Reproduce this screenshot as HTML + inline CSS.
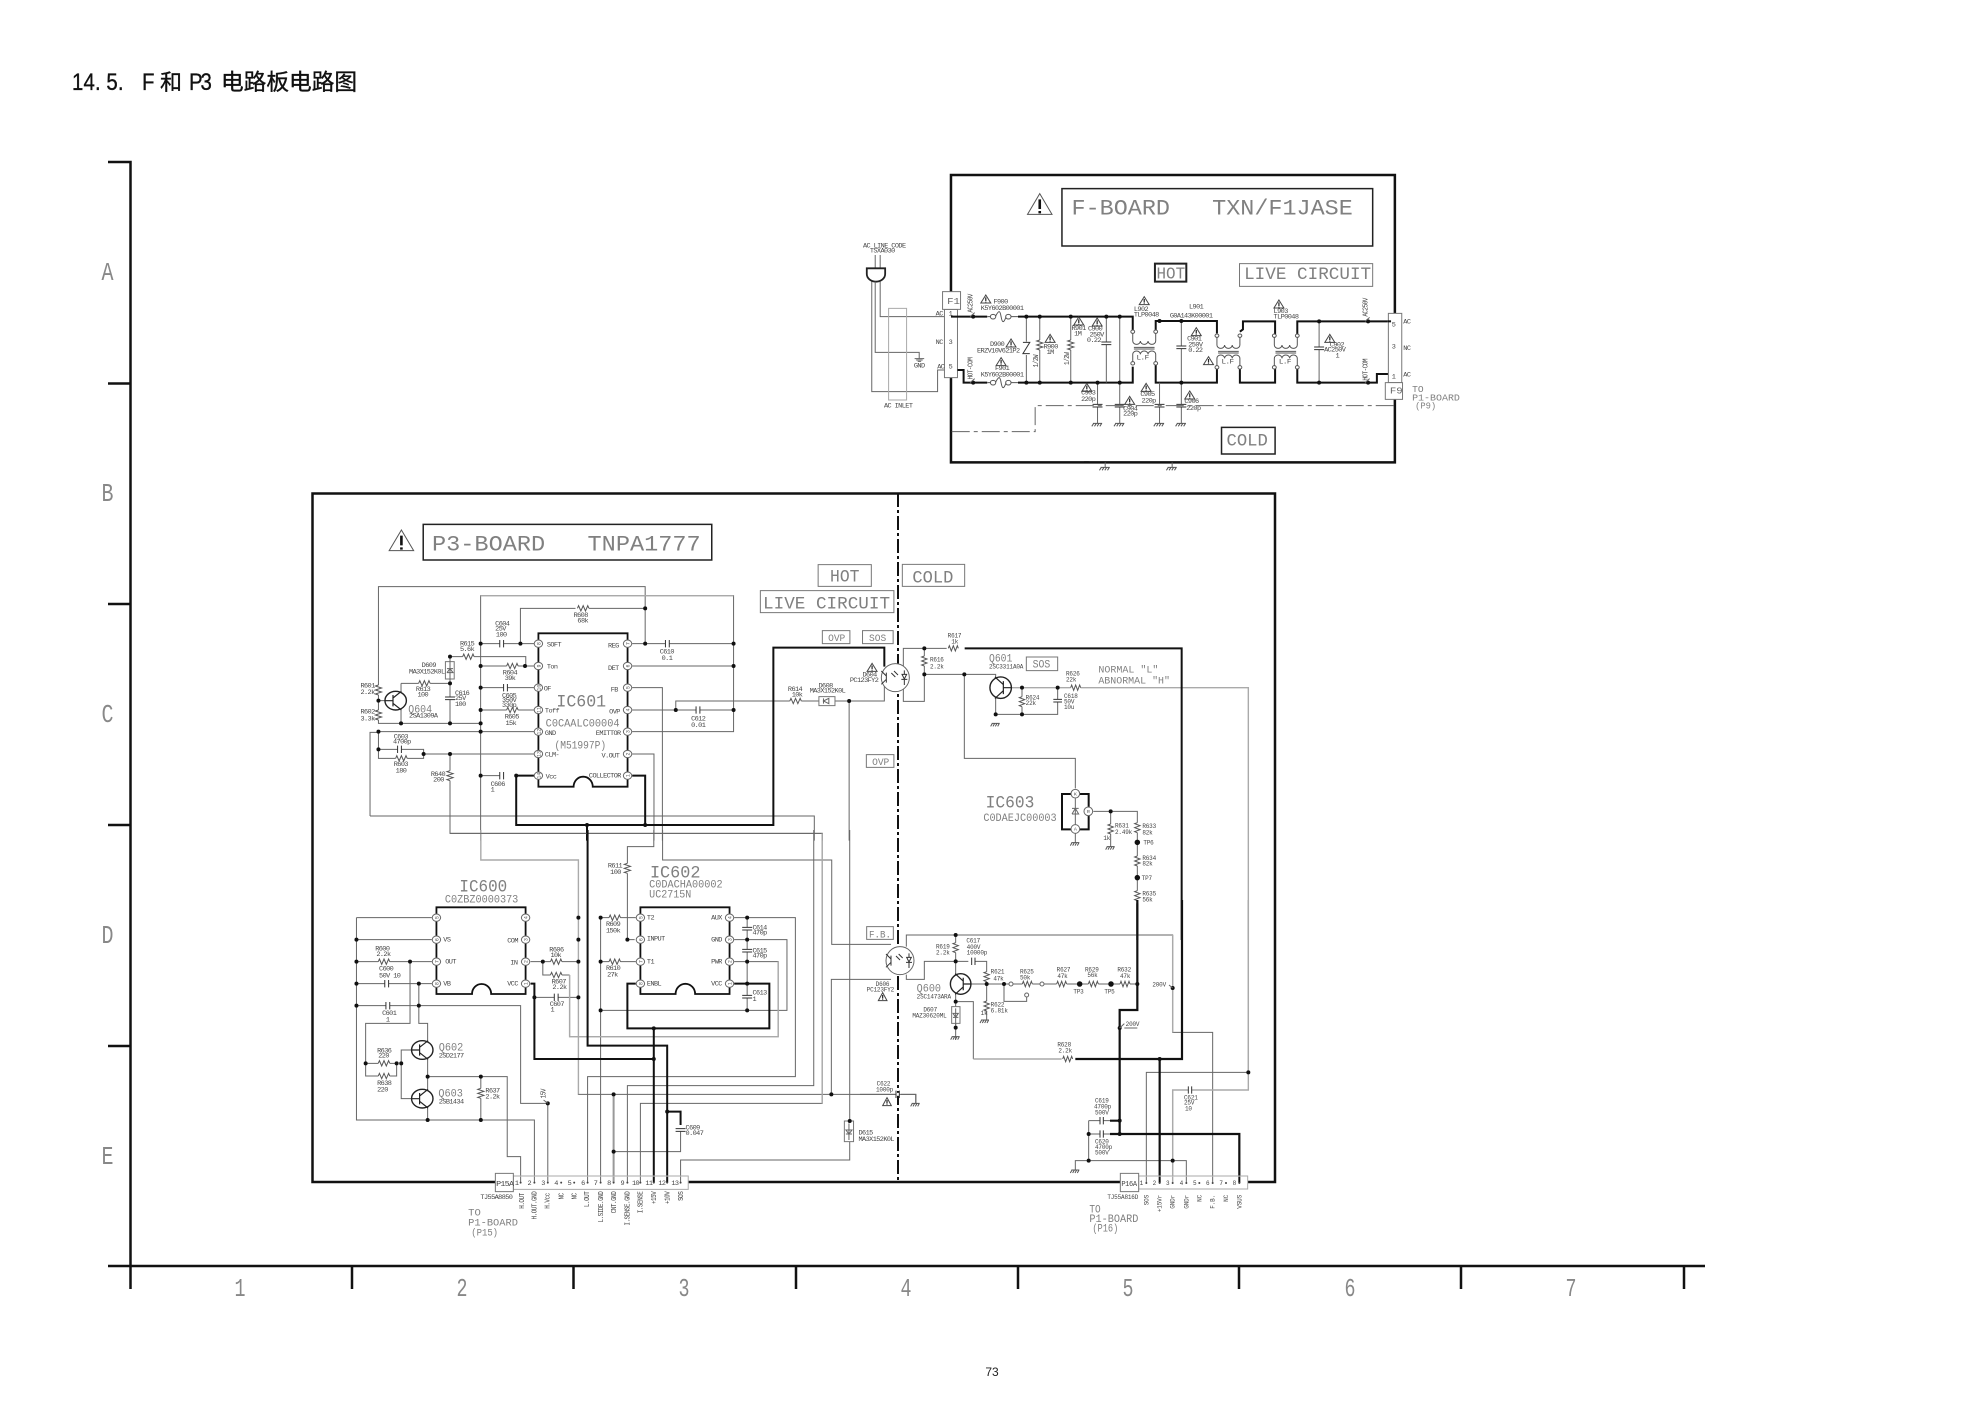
<!DOCTYPE html>
<html><head><meta charset="utf-8"><title>14.5. F 和 P3 电路板电路图</title>
<style>
html,body{margin:0;padding:0;background:#fff}
svg{display:block}
path,line,rect,circle,ellipse,polygon{vector-effect:non-scaling-stroke}
.f{fill:none;stroke:#111;stroke-width:2.5}
.k{fill:none;stroke:#111;stroke-width:2}
.t{fill:none;stroke:#666;stroke-width:1}
.l{fill:none;stroke:#aaa;stroke-width:1.4}
.d{fill:none;stroke:#111;stroke-width:4;stroke-linecap:round}
.dp{fill:none;stroke:#444;stroke-width:2;stroke-linecap:round}
.bx{fill:#fff;stroke:#777;stroke-width:1}
.bk{fill:#fff;stroke:#222;stroke-width:1.5}
.pin{fill:#fff;stroke:#666;stroke-width:1}
text{font-family:"Liberation Mono",monospace;white-space:pre}
.s{font-size:18px;letter-spacing:-1.5px;fill:#444}
.b{fill:#808080}
.n{font-size:15px;fill:#555;text-anchor:middle}
.z3 .s{letter-spacing:-.5px}
.ax{font-size:26px;fill:#888;text-anchor:middle}
.ti{fill:#111;stroke:#111;stroke-width:.35px}
</style></head><body>
<svg width="1985" height="1404" viewBox="0 0 1985 1404" xmlns="http://www.w3.org/2000/svg">
<defs>
<g id="zh"><path d="M0 0H30" fill="none" stroke="#fff" stroke-width="3"/><path d="M0 0l3-8 6 16 6-16 6 16 6-16 3 8" fill="none" stroke="#555" stroke-width="1"/></g>
<g id="zv"><path d="M0 0V30" fill="none" stroke="#fff" stroke-width="3"/><path d="M0 0l-8 3 16 6-16 6 16 6-16 6 8 3" fill="none" stroke="#555" stroke-width="1"/></g>
<g id="ch"><path d="M-5 0H5" fill="none" stroke="#fff" stroke-width="3"/><path d="M-5-11V11M5-11V11" fill="none" stroke="#333" stroke-width="1"/></g>
<g id="cv"><path d="M0-4V4" fill="none" stroke="#fff" stroke-width="3"/><path d="M-13-4H13M-13 4H13" fill="none" stroke="#333" stroke-width="1"/></g>
<g id="w"><path d="M0-13L13 11H-13Z" fill="#fff" stroke="#444" stroke-width="1"/><path d="M0-6V5M0 7V9" fill="none" stroke="#222" stroke-width="1.2"/></g>
<g id="W"><path d="M0-32L32 30H-32Z" fill="#fff" stroke="#555" stroke-width="1"/><path d="M0-15V14M0 20V27" fill="none" stroke="#111" stroke-width="2.6"/></g>
<path id="g" d="M-12 0H12M-10 0L-15 9M-3 0L-8 9M4 0L-1 9M11 0L6 9" fill="none" stroke="#555" stroke-width="1"/>
<g id="q"><circle r="28" fill="#fff" stroke="#222" stroke-width="1.4"/><path d="M-28 0H-7M-7-17V17M-7-8L15-28M-7 8L15 28" fill="none" stroke="#222" stroke-width="1.2"/></g>
<g id="o"><circle r="42" fill="#fff" stroke="#666" stroke-width="1"/><path d="M-27-15V15M-27-5L-42-20M-27 5L-42 20M20-10H34L27 4ZM18 5H36M27-22V-10M27 4V22M-12-14L0-2M-4-20L8-8" fill="none" stroke="#333" stroke-width="1"/></g>
<g id="fu"><path d="M0 0H80" fill="none" stroke="#fff" stroke-width="3"/><path d="M0 0H9M21 0C30-20 33-20 36 0S43 20 49 0M61 0H80" fill="none" stroke="#555" stroke-width="1"/><circle cx="15" r="7" fill="#fff" stroke="#555" stroke-width="1"/><circle cx="55" r="7" fill="#fff" stroke="#555" stroke-width="1"/></g>
<g id="lf"><path d="M0 5V28a10 10 0 0 0 20 0a10 10 0 0 0 20 0a10 10 0 0 0 20 0V5M0 90V68a10 10 0 0 1 20 0a10 10 0 0 1 20 0a10 10 0 0 1 20 0V90M3 47H57M3 52H57" fill="none" stroke="#555" stroke-width="1"/><circle r="5" fill="#fff" stroke="#555" stroke-width="1"/><circle cx="60" r="5" fill="#fff" stroke="#555" stroke-width="1"/><circle cy="95" r="5" fill="#fff" stroke="#555" stroke-width="1"/><circle cx="60" cy="95" r="5" fill="#fff" stroke="#555" stroke-width="1"/></g>
</defs>

<!-- title -->
<text class="ti" transform="translate(72 90) scale(.85 1)" x="0 13.500 27 40.500 54" style="font-family:'Liberation Sans',sans-serif;font-size:24px">14.5.</text>
<text class="ti" transform="translate(142 90) scale(.85 1)" style="font-family:'Liberation Sans',sans-serif;font-size:24px">F</text>
<text class="ti" x="160" y="90" style="font-family:'Noto Sans CJK SC',sans-serif;font-size:22px">和</text>
<text class="ti" transform="translate(189 90) scale(.85 1)" x="0 13.500" style="font-family:'Liberation Sans',sans-serif;font-size:24px">P3</text>
<text class="ti" x="221" y="90" style="font-family:'Noto Sans CJK SC',sans-serif;font-size:22.7px">电路板电路图</text>

<!-- axes -->
<path class="f" d="M108 162H130.500V1266M108 383.500H130.500M108 604H130.500M108 825H130.500M108 1046H130.500M108 1266H1705M130.500 1266V1289M352 1266V1289M573.500 1266V1289M796 1266V1289M1018 1266V1289M1239 1266V1289M1461 1266V1289M1684 1266V1289"/>
<g class="ax">
<text class="ax" x="107.500" y="280" textLength="12" lengthAdjust="spacingAndGlyphs">A</text>
<text class="ax" x="107.500" y="501" textLength="12" lengthAdjust="spacingAndGlyphs">B</text>
<text class="ax" x="107.500" y="722" textLength="12" lengthAdjust="spacingAndGlyphs">C</text>
<text class="ax" x="107.500" y="943" textLength="12" lengthAdjust="spacingAndGlyphs">D</text>
<text class="ax" x="107.500" y="1164" textLength="12" lengthAdjust="spacingAndGlyphs">E</text>
<text class="ax" x="240" y="1296" textLength="11" lengthAdjust="spacingAndGlyphs">1</text>
<text class="ax" x="462" y="1296" textLength="11" lengthAdjust="spacingAndGlyphs">2</text>
<text class="ax" x="684" y="1296" textLength="11" lengthAdjust="spacingAndGlyphs">3</text>
<text class="ax" x="906" y="1296" textLength="11" lengthAdjust="spacingAndGlyphs">4</text>
<text class="ax" x="1128" y="1296" textLength="11" lengthAdjust="spacingAndGlyphs">5</text>
<text class="ax" x="1350" y="1296" textLength="11" lengthAdjust="spacingAndGlyphs">6</text>
<text class="ax" x="1571" y="1296" textLength="11" lengthAdjust="spacingAndGlyphs">7</text>
</g>
<text x="992" y="1376" style="font-family:'Liberation Sans',sans-serif;font-size:12px;fill:#222" text-anchor="middle">73</text>

<!-- P3 board frame -->
<rect class="f" x="312.500" y="493.500" width="962.500" height="688.500"/>
<path d="M898 493V1182" fill="none" stroke="#111" stroke-width="2" stroke-dasharray="14 3 3 3"/>

<!-- ========== F BOARD ========== -->
<g transform="translate(840 160) scale(.38267 .33333)">
<rect class="f" x="290" y="45" width="1160" height="862"/>
<use href="#W" x="522" y="133"/>
<rect class="bk" x="580" y="86" width="812" height="172"/>
<text class="b" x="605" y="163" style="font-size:66px" textLength="735" lengthAdjust="spacingAndGlyphs">F-BOARD   TXN/F1JASE</text>
<rect class="bk" x="823" y="311" width="82" height="54" style="stroke-width:2"/>
<text class="b" x="827" y="355" style="font-size:50px" textLength="75" lengthAdjust="spacingAndGlyphs">HOT</text>
<rect class="bx" x="1044" y="311" width="348" height="68"/>
<text class="b" x="1056" y="357" style="font-size:52px" textLength="332" lengthAdjust="spacingAndGlyphs">LIVE CIRCUIT</text>
<rect class="bk" x="997" y="802" width="140" height="80"/>
<text class="b" x="1010" y="856" style="font-size:54px" textLength="108" lengthAdjust="spacingAndGlyphs">COLD</text>

<text class="s" x="60" y="263">AC LINE CODE</text><text class="s" x="78" y="277">TSXA030</text>
<path class="t" d="M83 340V695H255V630H272M92 285V325M105 285V325"/>
<path d="M70 325H118V342A24 23 0 0 1 70 342Z" fill="#fff" stroke="#222" stroke-width="1.8"/>
<path class="t" d="M105 365V470H272M92 365V577H207V596M195 596H220M199 600H216M203 604H212"/>
<text class="s" x="193" y="622">GND</text>
<rect x="127" y="445" width="47" height="275" fill="none" stroke="#aaa" stroke-width="1"/>
<text class="s" x="115" y="742">AC INLET</text>

<rect class="bx" x="273" y="448" width="34" height="205"/>
<rect class="bx" x="268" y="395" width="47" height="53"/>
<text class="b" x="280" y="432" style="font-size:28px;fill:#666">F1</text>
<text class="s" x="250" y="467">AC</text><text class="s" x="284" y="466">1</text>
<text class="s" x="250" y="552">NC</text><text class="s" x="284" y="552">3</text>
<text class="s" x="254" y="626">AC</text><text class="s" x="284" y="626">5</text>
<path class="k" d="M290 470H385M465 470H765V510M307 630H323V668H385M465 668H765V620M825 512V483H985V520M825 615V668H985V620M1045 515L1053 508V484H1137V522M1045 622V668H1137V622M1195 522V484H1430M1195 622V668H1390H1403V642H1440"/>
<path class="t" d="M487 470V668M522 470V668M603 470V668M696 470V668M731 470V790M673 668V790M835 668V790M892 483V790M1252 484V668"/>
<use href="#fu" x="385" y="470"/><use href="#fu" x="385" y="668"/>
<path d="M487 545V585" stroke="#fff" stroke-width="3" fill="none"/>
<path class="t" d="M478 547H496L478 581H496" style="stroke:#333"/>
<use href="#zv" x="522" y="540"/><use href="#zv" x="603" y="540"/>
<use href="#cv" x="696" y="550"/><use href="#cv" x="892" y="562"/><use href="#cv" x="1252" y="565"/>
<use href="#cv" x="673" y="737"/><use href="#cv" x="731" y="737"/><use href="#cv" x="835" y="737"/><use href="#cv" x="892" y="737"/>
<use href="#g" x="673" y="790"/><use href="#g" x="731" y="790"/><use href="#g" x="835" y="790"/><use href="#g" x="892" y="790"/>
<use href="#lf" x="765" y="515"/><use href="#lf" x="985" y="527"/><use href="#lf" x="1135" y="527"/>
<path class="d" d="M348 470h.01M487 470h.01M522 470h.01M603 470h.01M696 470h.01M731 470h.01M348 668h.01M487 668h.01M522 668h.01M603 668h.01M673 668h.01M731 668h.01M835 483h.01M892 483h.01M892 668h.01M1252 484h.01M1252 668h.01M1380 484h.01M1380 668h.01"/>
<path d="M340 470L352 458M340 668L352 656M1372 484L1384 472M1372 668L1384 656" class="t"/>
<text class="s" transform="translate(346 458) rotate(-90)">AC250V</text>
<text class="s" transform="translate(346 658) rotate(-90)">HOT-COM</text>
<text class="s" transform="translate(1378 470) rotate(-90)">AC250V</text>
<text class="s" transform="translate(1378 662) rotate(-90)">HOT-COM</text>
<use href="#w" x="381" y="418"/><text class="s" x="401" y="431">F900</text><text class="s" x="368" y="450">K5Y602B00001</text>
<use href="#w" x="421" y="606"/><text class="s" x="405" y="630">F901</text><text class="s" x="368" y="650">K5Y602B00001</text>
<text class="s" x="392" y="558">D900</text><use href="#w" x="447" y="550"/><text class="s" x="358" y="578">ERZV10V621P2</text>
<use href="#w" x="549" y="536"/><text class="s" x="532" y="566">R900</text><text class="s" x="540" y="582">1M</text>
<use href="#w" x="624" y="484"/><text class="s" x="605" y="510">R901</text><text class="s" x="612" y="526">1M</text>
<text class="s" transform="translate(518 622) rotate(-90)">1/2W</text><text class="s" transform="translate(599 615) rotate(-90)">1/2W</text>
<use href="#w" x="672" y="487"/><text class="s" x="648" y="512">C900</text><text class="s" x="652" y="529">250V</text><text class="s" x="645" y="546">0.22</text>
<use href="#w" x="645" y="683"/><text class="s" x="630" y="703">C903</text><text class="s" x="630" y="723">220p</text>
<use href="#w" x="757" y="722"/><text class="s" x="740" y="752">C904</text><text class="s" x="740" y="767">220p</text>
<use href="#w" x="800" y="683"/><text class="s" x="785" y="708">C905</text><text class="s" x="788" y="728">220p</text>
<use href="#w" x="914" y="706"/><text class="s" x="900" y="729">C906</text><text class="s" x="905" y="750">220p</text>
<use href="#w" x="795" y="423"/><text class="s" x="768" y="453">L902</text><text class="s" x="768" y="469">TLP0048</text>
<text class="s" x="912" y="446">L901</text><text class="s" x="862" y="472">G0A143K00001</text>
<use href="#w" x="931" y="516"/><text class="s" x="907" y="542">C901</text><text class="s" x="910" y="559">250V</text><text class="s" x="910" y="576">0.22</text>
<use href="#w" x="963" y="603"/>
<use href="#w" x="1147" y="433"/><text class="s" x="1133" y="459">L903</text><text class="s" x="1133" y="476">TLP0048</text>
<use href="#w" x="1280" y="536"/><text class="s" x="1280" y="559">C902</text><text class="s" x="1265" y="575">AC250V</text><text class="s" x="1295" y="592">1</text>
<text class="s" x="775" y="598" style="font-size:20px">L.F</text><text class="s" x="997" y="610" style="font-size:20px">L.F</text><text class="s" x="1147" y="610" style="font-size:20px">L.F</text>
<rect class="bx" x="1433" y="460" width="35" height="208"/>
<path class="k" d="M1430 484H1440"/>
<text class="s" x="1442" y="500">5</text><text class="s" x="1442" y="566">3</text><text class="s" x="1442" y="655">1</text>
<text class="s" x="1472" y="490">AC</text><text class="s" x="1472" y="570">NC</text><text class="s" x="1472" y="649">AC</text>
<rect class="bx" x="1425" y="668" width="45" height="50"/>
<text class="b" x="1437" y="700" style="font-size:28px;fill:#666">F9</text>
<text class="b" x="1495" y="696" style="font-size:28px" textLength="30" lengthAdjust="spacingAndGlyphs">TO</text>
<text class="b" x="1495" y="721" style="font-size:28px" textLength="125" lengthAdjust="spacingAndGlyphs">P1-BOARD</text>
<text class="b" x="1503" y="746" style="font-size:28px" textLength="55" lengthAdjust="spacingAndGlyphs">(P9)</text>
<path d="M292 815H510V737H1450" fill="none" stroke="#666" stroke-width="1" stroke-dasharray="18 4 4 4"/>
<path class="k" d="M638 907H650"/>
<path class="t" d="M693 907V922M868 907V922"/>
<use href="#g" x="693" y="922"/><use href="#g" x="868" y="922"/>
</g>

<!-- ========== P3 upper-left ========== -->
<g transform="translate(300 480) scale(.38267 .33333)">
<use href="#W" x="265" y="182"/>
<rect class="bk" x="322" y="133" width="754" height="107"/>
<text class="b" x="345" y="212" style="font-size:66px" textLength="702" lengthAdjust="spacingAndGlyphs">P3-BOARD   TNPA1777</text>
<rect class="bx" x="1354" y="254" width="139" height="65"/>
<text class="b" x="1385" y="305" style="font-size:52px" textLength="77" lengthAdjust="spacingAndGlyphs">HOT</text>
<rect class="bx" x="1203" y="332" width="349" height="66"/>
<text class="b" x="1210" y="385" style="font-size:52px" textLength="332" lengthAdjust="spacingAndGlyphs">LIVE CIRCUIT</text>
<rect class="bx" x="1365" y="452" width="72" height="39"/>
<text class="b" x="1380" y="483" style="font-size:30px" textLength="45" lengthAdjust="spacingAndGlyphs">OVP</text>
<rect class="bx" x="1470" y="452" width="80" height="39"/>
<text class="b" x="1487" y="483" style="font-size:30px" textLength="45" lengthAdjust="spacingAndGlyphs">SOS</text>
<rect class="bx" x="1480" y="824" width="72" height="38"/>
<text class="b" x="1495" y="855" style="font-size:30px" textLength="45" lengthAdjust="spacingAndGlyphs">OVP</text>

<path class="t" d="M205 620V320H902V491M472 1082V347H1133V755H868M576 491V385H720M755 385H902M472 491H612M472 558H612M392 530H590V558M472 623H612M472 690H612M205 662H225M264 610H340H392M205 640V715V730H472M264 690V730M392 530V730M205 755H612M183 1008V757H205M183 1008H1344V1082M205 755V835H323V808H205M323 822H612M392 822V1060H1365V1082M472 887H525M868 491H1133M868 558H1133M868 623H947V1082M868 690H1133M982 690V663H1527V610M1435 663V1082M868 822H925V1082M264 610V635"/>
<path class="l" d="M472 347H1133"/>
<path class="k" style="stroke-width:1.8" d="M623 460H856V920H765A25 30 0 0 0 715 920H623Z"/>
<path class="k" d="M612 887H565V1035H1237V503H1527V560M868 887H902V1035M750 1035V1082"/>
<use href="#zh" x="725" y="385"/>
<use href="#zh" x="540" y="558"/><use href="#zh" x="540" y="690"/><use href="#zh" x="425" y="530"/>
<use href="#zh" x="310" y="610"/><use href="#zh" x="250" y="835"/><use href="#zh" x="1280" y="663"/>
<use href="#zv" x="205" y="615"/><use href="#zv" x="205" y="690"/><use href="#zv" x="392" y="872"/>
<use href="#ch" x="527" y="491"/><use href="#ch" x="537" y="623"/><use href="#ch" x="260" y="808"/><use href="#ch" x="527" y="887"/><use href="#ch" x="960" y="491"/><use href="#ch" x="1040" y="690"/>
<use href="#q" x="250" y="662"/>
<rect class="bx" x="380" y="545" width="23" height="52"/>
<path class="t" d="M392 535V610M384 566H400M384 578H400L392 566L384 578"/>
<use href="#cv" x="392" y="655"/>
<rect class="bx" x="1356" y="650" width="42" height="27"/>
<path class="t" d="M1368 663L1382 655V671ZM1368 655V671"/>
<path class="d" d="M472 491h.01M576 491h.01M472 558h.01M588 558h.01M392 530h.01M472 623h.01M472 690h.01M205 662h.01M392 610h.01M264 730h.01M392 730h.01M472 730h.01M205 755h.01M472 755h.01M205 808h.01M323 822h.01M392 822h.01M472 887h.01M565 887h.01M902 385h.01M902 491h.01M1133 491h.01M1133 558h.01M982 690h.01M1133 690h.01M750 1035h.01M902 1035h.01M1435 663h.01"/>
<g>
<circle class="pin" cx="623" cy="491" r="11"/><circle class="pin" cx="623" cy="558" r="11"/><circle class="pin" cx="623" cy="623" r="11"/><circle class="pin" cx="623" cy="690" r="11"/><circle class="pin" cx="623" cy="755" r="11"/><circle class="pin" cx="623" cy="822" r="11"/><circle class="pin" cx="623" cy="887" r="11"/>
<circle class="pin" cx="856" cy="491" r="11"/><circle class="pin" cx="856" cy="558" r="11"/><circle class="pin" cx="856" cy="623" r="11"/><circle class="pin" cx="856" cy="690" r="11"/><circle class="pin" cx="856" cy="755" r="11"/><circle class="pin" cx="856" cy="822" r="11"/><circle class="pin" cx="856" cy="887" r="11"/>
<text class="n" transform="translate(628 491) rotate(-90)">8</text><text class="n" transform="translate(628 558) rotate(-90)">9</text><text class="n" transform="translate(628 623) rotate(-90)">10</text><text class="n" transform="translate(628 690) rotate(-90)">11</text><text class="n" transform="translate(628 755) rotate(-90)">12</text><text class="n" transform="translate(628 822) rotate(-90)">13</text><text class="n" transform="translate(628 887) rotate(-90)">14</text>
<text class="n" transform="translate(861 491) rotate(-90)">7</text><text class="n" transform="translate(861 558) rotate(-90)">6</text><text class="n" transform="translate(861 623) rotate(-90)">5</text><text class="n" transform="translate(861 690) rotate(-90)">4</text><text class="n" transform="translate(861 755) rotate(-90)">3</text><text class="n" transform="translate(861 822) rotate(-90)">2</text><text class="n" transform="translate(861 887) rotate(-90)">1</text>
</g>
<text class="s" x="645" y="500">SOFT</text><text class="s" x="645" y="566">Ton</text><text class="s" x="637" y="632">OF</text><text class="s" x="640" y="698">Toff</text><text class="s" x="640" y="765">GND</text><text class="s" x="640" y="830">CLM-</text><text class="s" x="642" y="895">Vcc</text>
<text class="s" x="805" y="502">REG</text><text class="s" x="805" y="570">DET</text><text class="s" x="812" y="635">FB</text><text class="s" x="808" y="700">OVP</text><text class="s" x="773" y="765">EMITTOR</text><text class="s" x="788" y="833">V.OUT</text><text class="s" x="755" y="893">COLLECTOR</text>
<text class="b" x="670" y="680" style="font-size:54px" textLength="130" lengthAdjust="spacingAndGlyphs">IC601</text>
<text class="b" x="642" y="740" style="font-size:34px" textLength="193" lengthAdjust="spacingAndGlyphs">C0CAALC00004</text>
<text class="b" x="665" y="805" style="font-size:34px" textLength="135" lengthAdjust="spacingAndGlyphs">(M51997P)</text>
<text class="s" x="715" y="411">R608</text><text class="s" x="725" y="427">68k</text>
<text class="s" x="510" y="436">C604</text><text class="s" x="510" y="452">25V</text><text class="s" x="512" y="470">100</text>
<text class="s" x="418" y="496">R615</text><text class="s" x="418" y="513">5.6k</text>
<text class="s" x="530" y="583">R604</text><text class="s" x="535" y="600">39k</text>
<text class="s" x="528" y="652">C605</text><text class="s" x="528" y="666">350V</text><text class="s" x="528" y="681">330p</text>
<text class="s" x="535" y="715">R605</text><text class="s" x="537" y="735">15k</text>
<text class="s" x="318" y="561">D609</text><text class="s" x="285" y="581">MA3X152K0L</text>
<text class="s" x="405" y="645">C616</text><text class="s" x="405" y="660">25V</text><text class="s" x="405" y="678">100</text>
<text class="s" x="303" y="633">R613</text><text class="s" x="307" y="650">100</text>
<text class="s" x="158" y="622">R601</text><text class="s" x="158" y="642">2.2k</text>
<text class="s" x="158" y="701">R602</text><text class="s" x="158" y="722">3.3k</text>
<text class="b" x="283" y="697" style="font-size:34px" textLength="62" lengthAdjust="spacingAndGlyphs">Q604</text>
<text class="s" x="285" y="713">2SA1309A</text>
<text class="s" x="245" y="775">C603</text><text class="s" x="243" y="791">4700p</text>
<text class="s" x="245" y="858">R603</text><text class="s" x="250" y="877">180</text>
<text class="s" x="342" y="888">R640</text><text class="s" x="348" y="904">200</text>
<text class="s" x="498" y="918">C606</text><text class="s" x="498" y="935">1</text>
<text class="s" x="940" y="520">C610</text><text class="s" x="945" y="540">0.1</text>
<text class="s" x="1022" y="721">C612</text><text class="s" x="1022" y="741">0.01</text>
<text class="s" x="1275" y="633">R614</text><text class="s" x="1285" y="650">10k</text>
<text class="s" x="1355" y="622">D608</text><text class="s" x="1332" y="638">MA3X152K0L</text>
<use href="#w" x="1495" y="563"/><text class="s" x="1470" y="590">D604</text><text class="s" x="1437" y="606">PC123FY2</text>
</g>

<!-- ========== P3 upper-right ========== -->
<g class="z3" transform="translate(880 540) scale(.33333 .33333)">
<rect class="bx" x="67" y="73" width="187" height="66"/>
<text class="b" x="97" y="128" style="font-size:52px" textLength="123" lengthAdjust="spacingAndGlyphs">COLD</text>
<rect class="bx" x="439" y="351" width="94" height="41"/>
<text class="b" x="458" y="382" style="font-size:32px" textLength="53" lengthAdjust="spacingAndGlyphs">SOS</text>
<text class="b" x="327" y="365" style="font-size:34px" textLength="70" lengthAdjust="spacingAndGlyphs">Q601</text>
<text class="s" x="327" y="386">2SC3311A0A</text>
<path class="t" d="M70 395V325H200M70 432V484H133V403M133 325V403H347V415M347 470V523H533V443M426 443V523M253 403V655H586V745M586 880V908M640 814H772V860M692 814V920M772 860V1090"/>
<path class="l" d="M393 443H575M600 443H1105V1200"/>
<path class="k" d="M254 325H905V1200M772 1090V1200"/>
<use href="#o" x="46" y="413"/>
<use href="#zh" x="205" y="325"/>
<use href="#zv" x="133" y="348"/><use href="#zv" x="426" y="470"/><use href="#zh" x="572" y="443"/>
<use href="#cv" x="533" y="482"/>
<g transform="translate(362 443) scale(-1.15 1.15)"><use href="#q"/></g>
<use href="#g" x="347" y="550"/><use href="#g" x="586" y="908"/><use href="#g" x="692" y="920"/>
<rect x="546" y="762" width="80" height="106" fill="#fff" stroke="#111" stroke-width="2"/>
<path class="t" d="M586 775V855M576 822H596L586 805L576 822M576 805H596"/>
<circle class="pin" cx="586" cy="761" r="13"/><circle class="pin" cx="586" cy="867" r="13"/><circle class="pin" cx="625" cy="814" r="13"/>
<text class="n" x="586" y="766">K</text><text class="n" x="586" y="872">A</text><text class="n" x="625" y="819">R</text>
<text class="b" x="317" y="803" style="font-size:54px" textLength="146" lengthAdjust="spacingAndGlyphs">IC603</text>
<text class="b" x="310" y="843" style="font-size:34px" textLength="220" lengthAdjust="spacingAndGlyphs">C0DAEJC00003</text>
<use href="#zv" x="692" y="852"/><use href="#zv" x="772" y="848"/><use href="#zv" x="772" y="948"/><use href="#zv" x="772" y="1052"/>
<path class="d" d="M133 325h.01M133 403h.01M253 403h.01M347 523h.01M426 523h.01M426 443h.01M533 443h.01M692 814h.01"/>
<path d="M772 907h.01M772 1013h.01" fill="none" stroke="#111" stroke-width="5.500" stroke-linecap="round"/>
<text class="s" x="203" y="292">R617</text><text class="s" x="214" y="310">1k</text>
<text class="s" x="150" y="365">R616</text><text class="s" x="150" y="385">2.2k</text>
<text class="s" x="558" y="406">R626</text><text class="s" x="558" y="425">22k</text>
<text class="s" x="437" y="478">R624</text><text class="s" x="437" y="495">22k</text>
<text class="s" x="552" y="474">C618</text><text class="s" x="552" y="490">50V</text><text class="s" x="552" y="507">10u</text>
<text class="b" x="655" y="397" style="font-size:30px" textLength="180" lengthAdjust="spacingAndGlyphs">NORMAL "L"</text>
<text class="b" x="655" y="430" style="font-size:30px" textLength="215" lengthAdjust="spacingAndGlyphs">ABNORMAL "H"</text>
<text class="s" x="705" y="862">R631</text><text class="s" x="705" y="882">2.49k</text><text class="s" x="670" y="900">1k</text>
<text class="s" x="787" y="864">R633</text><text class="s" x="787" y="884">82k</text>
<text class="s" x="790" y="914">TP6</text>
<text class="s" x="787" y="960">R634</text><text class="s" x="787" y="977">82k</text>
<text class="s" x="785" y="1020">TP7</text>
<text class="s" x="787" y="1067">R635</text><text class="s" x="787" y="1084">56k</text>
</g>

<!-- ========== P3 lower-left ========== -->
<g transform="translate(340 830) scale(.38267 .33333)">
<path class="l" d="M368 0V90H623V795"/>
<path class="t" d="M843 0V90H1285V343H1440M1284 793V448H1440M43 263H240M43 263V870H508V1050M43 329H240M43 395H240M43 461H240M43 527H472V820H543V1050M183 395V580H67V738H148V700M67 700H148M160 700V806H188M160 700V660H188M206 461V580H229V640M229 680V780M229 740H437V980H472V1050M368 740V870M229 830V870M498 395H623M530 395V435H600M600 435V620H1145V395H1030M508 502H623M681 263H773M681 263V1050M681 395H773M1030 263H1190V740H647V1050M1064 263V541M1030 329H1168V541H681M1238 0V767H751V1050M288 10H1260V820H785V1050M1332 0V990H890V1050M623 793H1450M1466 793H1505V820M890 905V965H715M820 0V50H751V329H770"/>
<path class="l" d="M600 435V620H1145V395M1260 10V820"/>
<path d="M715 793V1050" fill="none" stroke="#999" stroke-width="2"/>
<path class="k" d="M498 461H508V687H820M647 0V647H855V1050M820 595V1050M855 845H890V885M773 461H751V595H1122V461H1030"/>
<path class="k" style="stroke-width:1.8" d="M252 232H485V492H395A25 30 0 0 0 345 492H252ZM785 232H1018V492H928A25 30 0 0 0 877 492H785Z" />
<g>
<circle class="pin" cx="252" cy="263" r="11"/><circle class="pin" cx="252" cy="329" r="11"/><circle class="pin" cx="252" cy="395" r="11"/><circle class="pin" cx="252" cy="461" r="11"/>
<circle class="pin" cx="485" cy="263" r="11"/><circle class="pin" cx="485" cy="329" r="11"/><circle class="pin" cx="485" cy="395" r="11"/><circle class="pin" cx="485" cy="461" r="11"/>
<circle class="pin" cx="785" cy="263" r="11"/><circle class="pin" cx="785" cy="329" r="11"/><circle class="pin" cx="785" cy="395" r="11"/><circle class="pin" cx="785" cy="461" r="11"/>
<circle class="pin" cx="1018" cy="263" r="11"/><circle class="pin" cx="1018" cy="329" r="11"/><circle class="pin" cx="1018" cy="395" r="11"/><circle class="pin" cx="1018" cy="461" r="11"/>
<text class="n" transform="translate(257 263) rotate(-90)">5</text><text class="n" transform="translate(257 329) rotate(-90)">6</text><text class="n" transform="translate(257 395) rotate(-90)">7</text><text class="n" transform="translate(257 461) rotate(-90)">8</text>
<text class="n" transform="translate(490 263) rotate(-90)">4</text><text class="n" transform="translate(490 329) rotate(-90)">3</text><text class="n" transform="translate(490 395) rotate(-90)">2</text><text class="n" transform="translate(490 461) rotate(-90)">1</text>
<text class="n" transform="translate(790 263) rotate(-90)">5</text><text class="n" transform="translate(790 329) rotate(-90)">6</text><text class="n" transform="translate(790 395) rotate(-90)">7</text><text class="n" transform="translate(790 461) rotate(-90)">8</text>
<text class="n" transform="translate(1023 263) rotate(-90)">4</text><text class="n" transform="translate(1023 329) rotate(-90)">3</text><text class="n" transform="translate(1023 395) rotate(-90)">2</text><text class="n" transform="translate(1023 461) rotate(-90)">1</text>
</g>
<use href="#zh" x="100" y="395"/><use href="#zh" x="100" y="700"/><use href="#zh" x="100" y="738"/>
<use href="#zh" x="550" y="395"/><use href="#zh" x="550" y="435"/>
<use href="#zh" x="703" y="263"/><use href="#zh" x="703" y="395"/>
<use href="#zv" x="751" y="100"/><use href="#zv" x="368" y="775"/>
<use href="#ch" x="122" y="461"/><use href="#ch" x="125" y="527"/><use href="#ch" x="565" y="502"/>
<use href="#cv" x="1064" y="296"/><use href="#cv" x="1064" y="362"/><use href="#cv" x="1064" y="500"/><use href="#cv" x="890" y="900"/>
<use href="#q" x="215" y="660"/><use href="#q" x="215" y="806"/>
<rect class="bx" x="1318" y="873" width="24" height="62"/>
<path class="t" d="M1330 880V930M1322 900H1338L1330 912ZM1322 912H1338"/>
<path class="d" d="M623 263h.01M623 329h.01M623 395h.01M623 502h.01M43 329h.01M43 395h.01M43 461h.01M43 527h.01M183 395h.01M206 461h.01M206 527h.01M67 700h.01M148 700h.01M160 700h.01M229 740h.01M368 740h.01M229 870h.01M368 870h.01M530 395h.01M508 502h.01M681 395h.01M681 541h.01M681 263h.01M1064 263h.01M1064 329h.01M1064 395h.01M1064 461h.01M1064 541h.01M820 595h.01M820 687h.01M855 845h.01M715 793h.01M715 965h.01M1284 793h.01M1332 873h.01M543 820h.01M751 329h.01"/>
<path class="t" d="M543 820L532 810"/>
<text class="s" transform="translate(537 805) rotate(-90)">15V</text>
<text class="b" x="312" y="185" style="font-size:54px" textLength="125" lengthAdjust="spacingAndGlyphs">IC600</text>
<text class="b" x="274" y="218" style="font-size:32px" textLength="192" lengthAdjust="spacingAndGlyphs">C0ZBZ0000373</text>
<text class="b" x="810" y="143" style="font-size:54px" textLength="132" lengthAdjust="spacingAndGlyphs">IC602</text>
<text class="b" x="808" y="172" style="font-size:32px" textLength="192" lengthAdjust="spacingAndGlyphs">C0DACHA00002</text>
<text class="b" x="808" y="202" style="font-size:32px" textLength="110" lengthAdjust="spacingAndGlyphs">UC2715N</text>
<text class="s" x="270" y="335">VS</text><text class="s" x="275" y="400">OUT</text><text class="s" x="270" y="467">VB</text>
<text class="s" x="437" y="337">COM</text><text class="s" x="445" y="403">IN</text><text class="s" x="437" y="467">VCC</text>
<text class="s" x="802" y="268">T2</text><text class="s" x="802" y="332">INPUT</text><text class="s" x="802" y="400">T1</text><text class="s" x="802" y="467">ENBL</text>
<text class="s" x="970" y="268">AUX</text><text class="s" x="970" y="335">GND</text><text class="s" x="970" y="400">PWR</text><text class="s" x="970" y="467">VCC</text>
<text class="s" x="92" y="362">R600</text><text class="s" x="95" y="378">2.2k</text>
<text class="s" x="102" y="422">C600</text><text class="s" x="102" y="442">50V 10</text>
<text class="s" x="110" y="555">C601</text><text class="s" x="120" y="575">1</text>
<text class="s" x="97" y="668">R636</text><text class="s" x="100" y="683">220</text>
<text class="s" x="97" y="765">R638</text><text class="s" x="97" y="785">220</text>
<text class="b" x="258" y="662" style="font-size:32px" textLength="64" lengthAdjust="spacingAndGlyphs">Q602</text><text class="s" x="258" y="682">2SD2177</text>
<text class="b" x="257" y="800" style="font-size:32px" textLength="64" lengthAdjust="spacingAndGlyphs">Q603</text><text class="s" x="258" y="821">2SB1434</text>
<text class="s" x="380" y="788">R637</text><text class="s" x="380" y="805">2.2k</text>
<text class="s" x="547" y="364">R606</text><text class="s" x="550" y="381">10k</text>
<text class="s" x="553" y="460">R607</text><text class="s" x="555" y="477">2.2k</text>
<text class="s" x="548" y="528">C607</text><text class="s" x="550" y="545">1</text>
<text class="s" x="700" y="112">R611</text><text class="s" x="706" y="132">100</text>
<text class="s" x="695" y="288">R609</text><text class="s" x="695" y="307">150k</text>
<text class="s" x="695" y="420">R610</text><text class="s" x="698" y="440">27k</text>
<text class="s" x="1078" y="298">C614</text><text class="s" x="1078" y="314">470p</text>
<text class="s" x="1078" y="367">C615</text><text class="s" x="1078" y="383">470p</text>
<text class="s" x="1078" y="493">C613</text><text class="s" x="1078" y="513">1</text>
<text class="s" x="903" y="898">C609</text><text class="s" x="903" y="915">0.047</text>
<text class="s" x="1355" y="913">D615</text><text class="s" x="1355" y="933">MA3X152K0L</text>
<rect x="453" y="1038" width="457" height="40" fill="#fff" stroke="#aaa" stroke-width="1"/>
<rect class="bx" x="406" y="1030" width="47" height="55"/>
<text class="s" x="408" y="1068" style="font-size:22px;letter-spacing:-2px">P15A</text>
<path class="t" d="M472 1040V1058M508 1040V1058M543 1040V1058M647 1040V1058M681 1040V1058M751 1040V1058M785 1040V1058M890 1040V1058"/>
<path class="k" d="M820 1040V1058M855 1040V1058"/>
<path d="M715 1040V1058" fill="none" stroke="#999" stroke-width="2"/>
<path class="dp" d="M472 1058h.01M508 1058h.01M543 1058h.01M578 1058h.01M612 1058h.01M647 1058h.01M681 1058h.01M715 1058h.01M751 1058h.01M785 1058h.01M820 1058h.01M855 1058h.01M890 1058h.01"/>
<text class="s" x="457" y="1065">1</text><text class="s" x="490" y="1065">2</text><text class="s" x="526" y="1065">3</text><text class="s" x="560" y="1065">4</text><text class="s" x="595" y="1065">5</text><text class="s" x="630" y="1065">6</text><text class="s" x="663" y="1065">7</text><text class="s" x="698" y="1065">8</text><text class="s" x="733" y="1065">9</text><text class="s" x="763" y="1065">10</text><text class="s" x="798" y="1065">11</text><text class="s" x="832" y="1065">12</text><text class="s" x="866" y="1065">13</text>
<text class="s" x="367" y="1107">TJ55A8850</text>
<g text-anchor="end">
<text class="s" transform="translate(481 1090) rotate(-90)">H.OUT</text>
<text class="s" transform="translate(514 1085) rotate(-90)">H.OUT.GND</text>
<text class="s" transform="translate(547 1090) rotate(-90)">H.Vcc</text>
<text class="s" transform="translate(584 1090) rotate(-90)">NC</text>
<text class="s" transform="translate(618 1090) rotate(-90)">NC</text>
<text class="s" transform="translate(651 1085) rotate(-90)">L.OUT</text>
<text class="s" transform="translate(687 1085) rotate(-90)">L.SIDE.GND</text>
<text class="s" transform="translate(721 1085) rotate(-90)">CNT.GND</text>
<text class="s" transform="translate(757 1085) rotate(-90)">I.SENSE.GND</text>
<text class="s" transform="translate(791 1085) rotate(-90)">I.SENSE</text>
<text class="s" transform="translate(826 1085) rotate(-90)">+15V</text>
<text class="s" transform="translate(861 1085) rotate(-90)">+10V</text>
<text class="s" transform="translate(896 1085) rotate(-90)">SOS</text>
</g>
<text class="b" x="335" y="1157" style="font-size:30px" textLength="33" lengthAdjust="spacingAndGlyphs">TO</text>
<text class="b" x="335" y="1187" style="font-size:30px" textLength="130" lengthAdjust="spacingAndGlyphs">P1-BOARD</text>
<text class="b" x="343" y="1217" style="font-size:30px" textLength="70" lengthAdjust="spacingAndGlyphs">(P15)</text>
</g>

<!-- ========== P3 lower-right ========== -->
<g class="z3" transform="translate(860 900) scale(.33333 .33333)">
<rect class="bx" x="20" y="80" width="80" height="38"/>
<text class="b" x="27" y="112" style="font-size:30px" textLength="66" lengthAdjust="spacingAndGlyphs">F.B.</text>
<path class="t" d="M139 140V105H938V397H1058V845M139 224V238H193V184H325M340 184H380V252M287 105V222M287 282V420M333 252H590M432 252V304H500V285M380 252V360M620 252H780M810 252H832M287 305H340V477M859 845V517H1165V0M1165 570H938V845M646 810V782H979V845M686 662V782M686 662H750M686 702H750M0 583H167V610"/>
<path class="l" d="M938 105V397M340 477H605M1165 0V570H938V845"/>
<path class="k" style="stroke-width:2.200" d="M832 0V330H779V702M966 0V477H646M899 477V845M750 662H779M750 702H1138V845"/>
<use href="#o" x="120" y="182"/>
<use href="#zv" x="287" y="128"/><use href="#zv" x="380" y="215"/><use href="#zv" x="380" y="303"/>
<use href="#zh" x="487" y="252"/><use href="#zh" x="590" y="252"/><use href="#zh" x="685" y="252"/><use href="#zh" x="780" y="252"/><use href="#zh" x="608" y="477"/>
<use href="#ch" x="340" y="184"/><use href="#ch" x="725" y="662"/><use href="#ch" x="725" y="702"/><use href="#ch" x="113" y="583"/>
<g transform="translate(302 252) scale(-1.1 1.1)"><use href="#q"/></g>
<circle class="pin" cx="453" cy="252" r="6"/><circle class="pin" cx="546" cy="252" r="6"/><circle class="pin" cx="500" cy="285" r="6"/>
<rect class="bx" x="275" y="320" width="25" height="50"/>
<path class="t" d="M287 325V375M279 340H295L287 352ZM279 352H295"/>
<use href="#g" x="287" y="410"/><use href="#g" x="375" y="360"/><use href="#g" x="167" y="610"/><use href="#g" x="646" y="810"/>
<path class="d" d="M287 105h.01M287 184h.01M380 252h.01M432 252h.01M832 252h.01M287 305h.01M287 383h.01M938 264h.01M779 384h.01M899 477h.01M1165 517h.01M779 662h.01M779 702h.01M686 702h.01M686 782h.01M938 782h.01"/>
<path d="M659 252h.01M753 252h.01" fill="none" stroke="#111" stroke-width="5.500" stroke-linecap="round"/>
<text class="s" x="47" y="258">D606</text><text class="s" x="20" y="274">PC123FY2</text><use href="#w" x="68" y="291"/>
<text class="s" x="228" y="145">R619</text><text class="s" x="228" y="163">2.2k</text>
<text class="s" x="319" y="128">C617</text><text class="s" x="320" y="147">400V</text><text class="s" x="320" y="164">10000p</text>
<text class="s" x="392" y="221">R621</text><text class="s" x="400" y="241">47k</text>
<text class="s" x="392" y="319">R622</text><text class="s" x="392" y="338">6.81k</text><text class="s" x="362" y="345">1k</text>
<text class="s" x="480" y="221">R625</text><text class="s" x="480" y="238">50k</text>
<text class="s" x="590" y="214">R627</text><text class="s" x="592" y="234">47k</text>
<text class="s" x="675" y="214">R629</text><text class="s" x="682" y="231">56k</text>
<text class="s" x="772" y="214">R632</text><text class="s" x="780" y="234">47k</text>
<text class="s" x="640" y="281">TP3</text><text class="s" x="733" y="281">TP5</text>
<text class="b" x="170" y="275" style="font-size:34px" textLength="73" lengthAdjust="spacingAndGlyphs">Q600</text><text class="s" x="170" y="295">2SC1473ARA</text>
<text class="s" x="190" y="334">D607</text><text class="s" x="157" y="353">MAZ30620ML</text>
<text class="s" x="877" y="260">200V</text><path class="t" d="M927 255L938 264"/>
<text class="s" x="797" y="378">200V</text><path class="t" d="M779 384L793 371M793 384H832"/>
<text class="s" x="592" y="440">R628</text><text class="s" x="595" y="457">2.2k</text>
<text class="s" x="50" y="556">C622</text><text class="s" x="48" y="574">1000p</text><use href="#w" x="81" y="606"/>
<text class="s" x="705" y="608">C619</text><text class="s" x="702" y="625">4700p</text><text class="s" x="705" y="643">500V</text>
<text class="s" x="705" y="731">C620</text><text class="s" x="705" y="747">4700p</text><text class="s" x="705" y="763">500V</text>
<use href="#ch" x="990" y="570"/>
<text class="s" x="972" y="598">C621</text><text class="s" x="972" y="613">25V</text><text class="s" x="975" y="631">10</text>
<rect x="836" y="828" width="327" height="39" fill="#fff" stroke="#aaa" stroke-width="1"/>
<rect class="bx" x="781" y="820" width="55" height="55"/>
<text class="s" x="784" y="858" style="font-size:21px;letter-spacing:-1px">P16A</text>
<path class="t" d="M859 830V849M1058 830V849"/><path class="l" d="M938 830V849"/><path class="t" d="M979 830V849"/>
<path class="k" d="M899 830V849M1138 830V849"/>
<path class="dp" d="M859 849h.01M899 849h.01M938 849h.01M979 849h.01M1018 849h.01M1058 849h.01M1098 849h.01M1138 849h.01"/>
<text class="s" x="839" y="855">1</text><text class="s" x="878" y="855">2</text><text class="s" x="918" y="855">3</text><text class="s" x="959" y="855">4</text><text class="s" x="999" y="855">5</text><text class="s" x="1038" y="855">6</text><text class="s" x="1078" y="855">7</text><text class="s" x="1118" y="855">8</text>
<text class="s" x="742" y="897">TJ55A816D</text>
<g text-anchor="end">
<text class="s" transform="translate(865 885) rotate(-90)">SOS</text>
<text class="s" transform="translate(905 885) rotate(-90)">+15Vr</text>
<text class="s" transform="translate(944 885) rotate(-90)">GNDr</text>
<text class="s" transform="translate(985 885) rotate(-90)">GNDr</text>
<text class="s" transform="translate(1024 885) rotate(-90)">NC</text>
<text class="s" transform="translate(1064 885) rotate(-90)">F.B.</text>
<text class="s" transform="translate(1104 885) rotate(-90)">NC</text>
<text class="s" transform="translate(1144 885) rotate(-90)">VSUS</text>
</g>
<text class="b" x="688" y="937" style="font-size:32px" textLength="34" lengthAdjust="spacingAndGlyphs">TO</text>
<text class="b" x="688" y="966" style="font-size:32px" textLength="147" lengthAdjust="spacingAndGlyphs">P1-BOARD</text>
<text class="b" x="697" y="995" style="font-size:32px" textLength="78" lengthAdjust="spacingAndGlyphs">(P16)</text>
</g>
</svg>
</body></html>
